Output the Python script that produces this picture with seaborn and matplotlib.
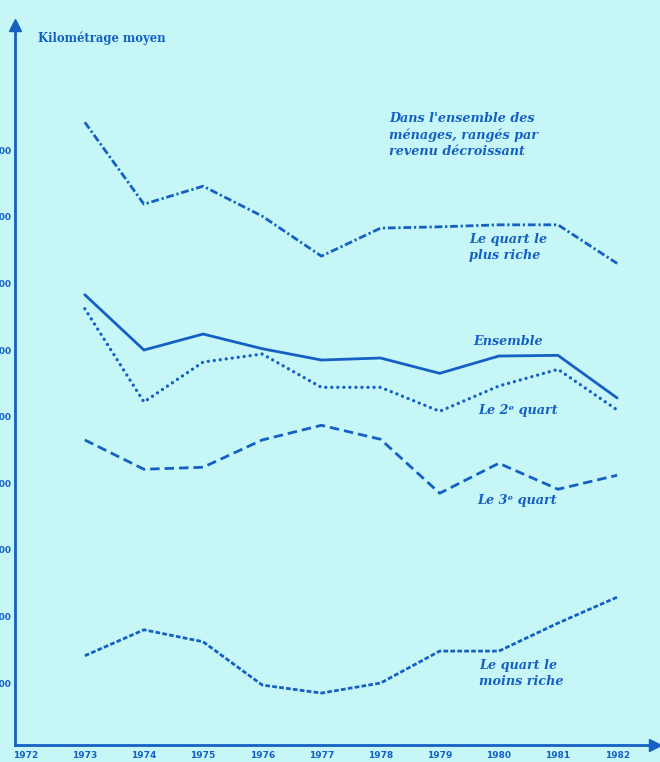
import numpy as np
import pandas as pd
import matplotlib
matplotlib.use("Agg")
import matplotlib.pyplot as plt
import seaborn as sns

years = [1973, 1974, 1975, 1976, 1977, 1978, 1979, 1980, 1981, 1982]
plus_riche = [17420, 16190, 16460, 16010, 15410, 15830, 15850, 15880, 15880, 15300]
ensemble = [14830, 14000, 14240, 14020, 13850, 13880, 13650, 13910, 13920, 13280]
deuxieme = [14620, 13220, 13820, 13940, 13440, 13440, 13080, 13460, 13710, 13100]
troisieme = [12650, 12210, 12240, 12650, 12870, 12660, 11850, 12300, 11910, 12120]
moins_riche = [9410, 9800, 9620, 8970, 8850, 9000, 9480, 9480, 9900, 10290]

xtick_years = list(range(1972, 1983))
ytick_values = [9000, 10000, 11000, 12000, 13000, 14000, 15000, 16000, 17000]

series = {
    "plus_riche": plus_riche,
    "ensemble": ensemble,
    "deuxieme": deuxieme,
    "troisieme": troisieme,
    "moins_riche": moins_riche,
}
df = pd.concat(
    [pd.DataFrame({"annee": years, "km": v, "groupe": k}) for k, v in series.items()],
    ignore_index=True,
)

BG = "#c6f6f6"
BLUE = "#1560c4"

sns.set_theme(style="white")
plt.rcParams["font.family"] = ["DejaVu Serif", "DejaVu Sans"]

fig = plt.figure(figsize=(6.6, 7.62), dpi=100, facecolor=BG)
ax = fig.add_axes([15 / 660, 17 / 762, 640 / 660, 720 / 762])
ax.set_facecolor(BG)

# dash patterns in units of line width
dashes = {
    "plus_riche": (2.8, 1.0, 0.8, 1.0),
    "ensemble": "",
    "deuxieme": (0.01, 1.8),
    "troisieme": (3.4, 1.8),
    "moins_riche": (1.7, 0.8),
}
sns.lineplot(data=df, x="annee", y="km", hue="groupe", style="groupe",
             palette={k: BLUE for k in series}, dashes=dashes,
             linewidth=2.0, legend=False, ax=ax)
for line, name in zip(ax.get_lines(), series):
    line.set_dash_capstyle("round" if name == "deuxieme" else "butt")
    if name == "deuxieme":
        line.set_linewidth(2.4)

ax.set_xlim(1971.82, 1982.64)
ax.set_ylim(8070, 18880)
ax.set_xlabel("")
ax.set_ylabel("")

for s in ["top", "right"]:
    ax.spines[s].set_visible(False)
for s in ["left", "bottom"]:
    ax.spines[s].set_color(BLUE)
    ax.spines[s].set_linewidth(2)

ax.plot(1, 0, ">", color=BLUE, markersize=8, transform=ax.transAxes, clip_on=False)
ax.plot(0, 1, "^", color=BLUE, markersize=8, transform=ax.transAxes, clip_on=False)

ax.set_xticks(xtick_years)
ax.set_xticklabels([str(y) for y in xtick_years])
ax.set_yticks(ytick_values)
ax.set_yticklabels([f"{v // 1000} 000" for v in ytick_values])
ax.tick_params(axis="both", direction="in", color=BLUE, width=1.5, length=5,
               labelcolor=BLUE, labelsize=6.5)
ax.tick_params(axis="x", pad=4)
ax.tick_params(axis="y", pad=3)
for lab in ax.get_xticklabels() + ax.get_yticklabels():
    lab.set_fontweight("bold")
    lab.set_family(["DejaVu Sans"])
ax.grid(False)

ax.text(38 / 660, 1 - 38 / 762, "Kilométrage moyen", transform=fig.transFigure,
        color=BLUE, fontsize=8.4, fontweight="bold", va="center", ha="left")

txt = dict(transform=fig.transFigure, color=BLUE, fontsize=9.2,
           fontweight="bold", style="italic", ha="left", va="top", linespacing=1.3)
ax.text(389 / 660, 1 - 112 / 762,
        "Dans l'ensemble des\nménages, rangés par\nrevenu décroissant", **txt)
ax.text(469 / 660, 1 - 233 / 762, "Le quart le\nplus riche", **txt)
ax.text(473 / 660, 1 - 335 / 762, "Ensemble", **txt)
ax.text(478 / 660, 1 - 404 / 762, "Le 2ᵉ quart", **txt)
ax.text(477 / 660, 1 - 494 / 762, "Le 3ᵉ quart", **txt)
ax.text(479 / 660, 1 - 659 / 762, "Le quart le\nmoins riche", **txt)

fig.savefig("out.png", dpi=100, facecolor=BG)
